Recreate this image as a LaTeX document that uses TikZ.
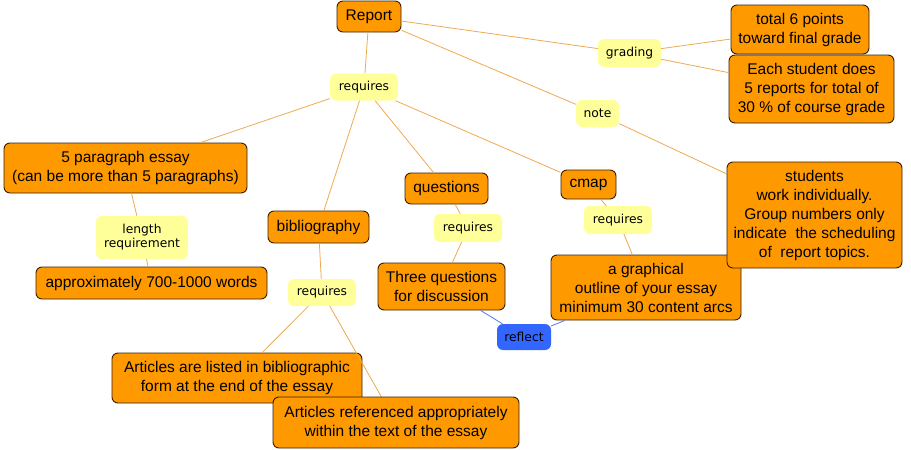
\documentclass[tikz,border=0pt]{standalone}
\usepackage{fontspec}
\setmainfont{Liberation Sans}
\newfontfamily\linkfont{DejaVu Sans}
\definecolor{conceptfill}{RGB}{255,153,0}
\definecolor{conceptdraw}{RGB}{60,30,0}
\definecolor{linkfill}{RGB}{255,255,153}
\definecolor{edgecol}{RGB}{238,170,80}
\definecolor{bluefill}{RGB}{51,102,255}
\definecolor{bluelink}{RGB}{80,120,230}
\tikzset{
  concept/.style={draw=conceptdraw, fill=conceptfill, rounded corners=6pt, line width=0.9pt,
    inner sep=0pt, align=center, font=\fontsize{15.5}{19}\selectfont},
  linkph/.style={fill=linkfill, rounded corners=6pt, inner sep=0pt, align=center,
    font=\linkfont\fontsize{12.3}{14}\selectfont},
  edge/.style={draw=edgecol, line width=0.8pt},
  bedge/.style={draw=bluelink, line width=0.8pt},
}
\begin{document}
\begin{tikzpicture}[x=1pt,y=-1pt]
\useasboundingbox (0,0) rectangle (911,450);
% concepts
\node[concept, minimum width=64pt, minimum height=31pt] (report) at (369,16.5) {Report};
\node[concept, minimum width=138pt, minimum height=49pt] (total) at (800,29.5) {total 6 points\\toward final grade};
\node[concept, minimum width=165pt, minimum height=68pt] (each) at (811.5,89) {Each student does\\5 reports for total of\\30 \% of course grade};
\node[concept, minimum width=243pt, minimum height=50pt] (essay) at (125.5,168) {5 paragraph essay\\(can be more than 5 paragraphs)};
\node[concept, minimum width=231pt, minimum height=32pt] (approx) at (151.5,283) {approximately 700-1000 words};
\node[concept, minimum width=101pt, minimum height=32pt] (bib) at (318.5,227) {bibliography};
\node[concept, minimum width=83pt, minimum height=31pt] (quest) at (446.5,188.5) {questions};
\node[concept, minimum width=127pt, minimum height=47pt] (three) at (441.5,286.5) {Three questions\\for discussion};
\node[concept, minimum width=55pt, minimum height=29pt] (cmap) at (588.5,184.5) {cmap};
\node[concept, minimum width=190pt, minimum height=65pt] (graph) at (646,287.5) {a graphical\\outline of your essay\\minimum 30 content arcs};
\node[concept, minimum width=175pt, minimum height=106pt] (stud) at (814.5,215) {students\\work individually.\\Group numbers only\\indicate \ the scheduling\\of \ report topics.};
\node[concept, minimum width=250pt, minimum height=50pt] (listed) at (237,378) {Articles are listed in bibliographic\\form at the end of the essay};
% linking phrases
\node[linkph, minimum width=68pt, minimum height=27pt] (req1) at (364,87) {requires};
\node[linkph, minimum width=63pt, minimum height=28pt] (grading) at (629.5,53) {grading};
\node[linkph, minimum width=43pt, minimum height=27pt] (note) at (597.5,113.5) {note};
\node[linkph, minimum width=92pt, minimum height=43pt] (length) at (142,237.5) {length\\requirement};
\node[linkph, minimum width=68pt, minimum height=27pt] (reqbib) at (322,292.5) {requires};
\node[linkph, minimum width=68pt, minimum height=28pt] (reqq) at (468,228) {requires};
\node[linkph, minimum width=68pt, minimum height=28pt] (reqc) at (618,220) {requires};
\node[fill=bluefill, rounded corners=6pt, inner sep=0pt, minimum width=54pt, minimum height=26pt,
  font=\linkfont\fontsize{12.3}{14}\selectfont] (reflect) at (524,337) {reflect};
% edges
\draw[edge] (report) -- (req1);
\draw[edge] (req1) -- (essay);
\draw[edge] (req1) -- (bib);
\draw[edge] (req1) -- (quest);
\draw[edge] (req1) -- (cmap);
\draw[edge] (report) -- (grading);
\draw[edge] (grading) -- (total);
\draw[edge] (grading) -- (each);
\draw[edge] (report) -- (note);
\draw[edge] (note) -- (stud);
\draw[edge] (essay) -- (length);
\draw[edge] (length) -- (approx);
\draw[edge] (bib) -- (reqbib);
\draw[edge] (quest) -- (reqq);
\draw[edge] (reqq) -- (three);
\draw[edge] (cmap) -- (reqc);
\draw[edge] (reqc) -- (graph);
\draw[edge] (reqbib) -- (listed);
\coordinate (refC) at (396,422.5);
\draw[edge] (reqbib) -- (refC);
\draw[bedge] (three) -- (reflect);
\draw[bedge] (reflect) -- (graph);
\node[concept, minimum width=246pt, minimum height=51pt] (refd) at (396,422.5) {Articles referenced appropriately\\within the text of the essay};
\end{tikzpicture}
\end{document}
